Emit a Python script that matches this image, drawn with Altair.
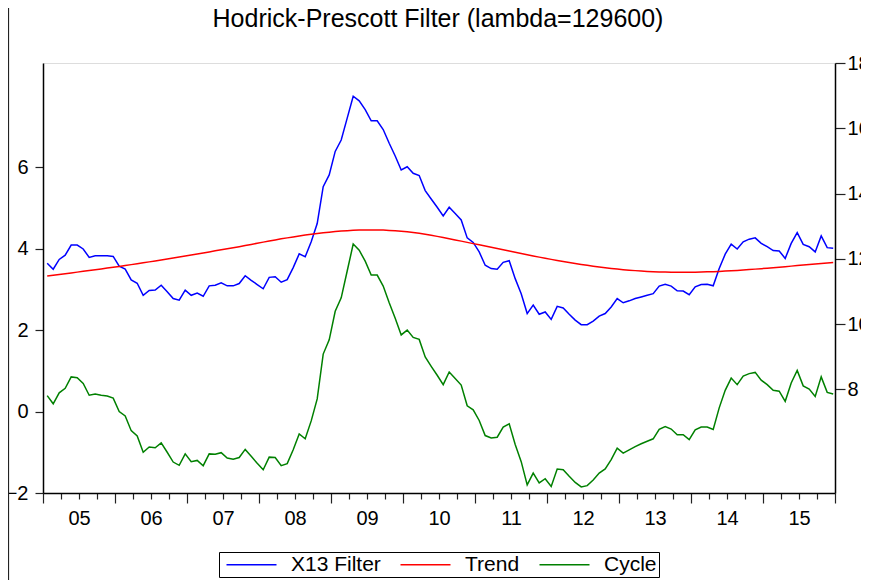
import altair as alt
import pandas as pd

FONT = "Liberation Sans"
TITLE = "Hodrick-Prescott Filter (lambda=129600)"

years = list(range(2005, 2016))
month_nums = list(range(1, 13))

x13 = [
    11.86, 11.68, 11.98, 12.11, 12.42, 12.42, 12.30, 12.04, 12.09, 12.09, 12.09, 12.07,
    11.77, 11.68, 11.35, 11.25, 10.88, 11.03, 11.04, 11.19, 10.99, 10.78, 10.73, 11.04,
    10.88, 10.95, 10.85, 11.17, 11.19, 11.26, 11.17, 11.17, 11.24, 11.48, 11.34, 11.21,
    11.08, 11.43, 11.45, 11.28, 11.36, 11.73, 12.15, 12.06, 12.52, 13.08, 14.21, 14.57,
    15.29, 15.64, 16.31, 16.98, 16.84, 16.57, 16.23, 16.23, 15.96, 15.54, 15.15, 14.72,
    14.82, 14.62, 14.55, 14.09, 13.83, 13.58, 13.31, 13.58, 13.39, 13.19, 12.64, 12.50,
    12.21, 11.80, 11.70, 11.68, 11.89, 11.94, 11.39, 10.93, 10.32, 10.58, 10.30, 10.37,
    10.14, 10.54, 10.49, 10.30, 10.12, 9.98, 9.98, 10.09, 10.24, 10.32, 10.52, 10.78,
    10.65, 10.71, 10.78, 10.83, 10.88, 10.93, 11.16, 11.22, 11.16, 11.02, 11.01, 10.90,
    11.14, 11.21, 11.22, 11.17, 11.70, 12.14, 12.45, 12.30, 12.52, 12.60, 12.64, 12.47,
    12.37, 12.25, 12.24, 12.01, 12.47, 12.80, 12.44, 12.37, 12.21, 12.70, 12.34, 12.32,
]

trend = [
    11.470, 11.494, 11.518, 11.542, 11.566, 11.590, 11.614, 11.639, 11.664, 11.689, 11.714, 11.740,
    11.766, 11.793, 11.820, 11.848, 11.876, 11.904, 11.933, 11.962, 11.992, 12.022, 12.052, 12.083,
    12.114, 12.146, 12.178, 12.210, 12.242, 12.274, 12.306, 12.338, 12.370, 12.405, 12.440, 12.475,
    12.510, 12.545, 12.578, 12.610, 12.640, 12.670, 12.700, 12.727, 12.752, 12.775, 12.796, 12.815,
    12.832, 12.847, 12.860, 12.870, 12.878, 12.883, 12.885, 12.884, 12.878, 12.869, 12.857, 12.842,
    12.824, 12.803, 12.779, 12.752, 12.720, 12.686, 12.651, 12.615, 12.578, 12.540, 12.502, 12.464,
    12.426, 12.388, 12.350, 12.312, 12.274, 12.236, 12.198, 12.160, 12.123, 12.086, 12.050, 12.015,
    11.981, 11.948, 11.916, 11.885, 11.855, 11.826, 11.798, 11.772, 11.748, 11.726, 11.704, 11.684,
    11.666, 11.650, 11.636, 11.624, 11.613, 11.604, 11.597, 11.591, 11.587, 11.585, 11.584, 11.585,
    11.587, 11.591, 11.598, 11.605, 11.613, 11.622, 11.632, 11.643, 11.655, 11.668, 11.682, 11.696,
    11.711, 11.726, 11.742, 11.758, 11.774, 11.790, 11.806, 11.822, 11.838, 11.854, 11.870, 11.886,
]

cycle = [
    0.39, 0.19, 0.46, 0.57, 0.85, 0.83, 0.69, 0.40, 0.43, 0.40, 0.38, 0.33,
    0.00, -0.11, -0.47, -0.60, -1.00, -0.87, -0.89, -0.77, -1.00, -1.24, -1.32, -1.04,
    -1.23, -1.20, -1.33, -1.04, -1.05, -1.01, -1.14, -1.17, -1.13, -0.93, -1.10, -1.27,
    -1.43, -1.12, -1.13, -1.33, -1.28, -0.94, -0.55, -0.67, -0.23, 0.31, 1.41, 1.76,
    2.46, 2.79, 3.45, 4.11, 3.96, 3.69, 3.35, 3.35, 3.08, 2.67, 2.29, 1.88,
    2.00, 1.82, 1.77, 1.34, 1.11, 0.89, 0.66, 0.97, 0.81, 0.65, 0.14, 0.04,
    -0.22, -0.59, -0.65, -0.63, -0.38, -0.30, -0.81, -1.23, -1.80, -1.51, -1.75, -1.65,
    -1.84, -1.41, -1.43, -1.59, -1.74, -1.85, -1.82, -1.68, -1.51, -1.41, -1.18, -0.90,
    -1.02, -0.94, -0.86, -0.79, -0.73, -0.67, -0.44, -0.37, -0.43, -0.57, -0.57, -0.69,
    -0.45, -0.38, -0.38, -0.44, 0.09, 0.52, 0.82, 0.66, 0.87, 0.93, 0.96, 0.77,
    0.66, 0.52, 0.50, 0.25, 0.70, 1.01, 0.63, 0.55, 0.37, 0.85, 0.47, 0.43,
]

series_names = ["X13 Filter", "Trend", "Cycle"]
series_colors = ["#0000FF", "#FF0000", "#008000"]

left_ticks = [-2, 0, 2, 4, 6]
right_ticks = [8, 10, 12, 14, 16, 18]
quarter_ticks = [2005 + q / 4 for q in range(45)]

# observation position (monthly, placed inside each month)
t = [y + (m - 0.3) / 12 for y in years for m in month_nums]

rows = []
for name, vals in zip(series_names, [x13, trend, cycle]):
    for tt, v in zip(t, vals):
        rows.append({"t": tt, "value": v, "series": name})
df = pd.DataFrame(rows)

xscale = alt.Scale(domain=[2005, 2016], nice=False, zero=False)
xaxis = alt.Axis(
    values=quarter_ticks, title=None, grid=False,
    labelExpr="(datum.value % 1 == 0.5) ? substring(toString(floor(datum.value)), 2, 4) : ''",
    tickSize={"condition": {"test": "datum.value % 1 == 0", "value": 10}, "value": 6},
    labelFontSize=20, labelFont=FONT, labelColor="black", labelPadding=9,
    labelOverlap=False, labelFlush=False, labelBound=False,
    tickColor="#222222", tickWidth=1.2, domainColor="black", domainWidth=1.5,
)

legend = alt.Legend(
    orient="none", legendX=176, legendY=489, direction="horizontal", title=None,
    symbolType="M-1,0H9", symbolSize=100, symbolStrokeWidth=1.5, labelOffset=49,
    labelFontSize=21, labelFont=FONT, labelColor="black",
    strokeColor="black", padding=2, columnPadding=14,
)
color = alt.Color(
    "series:N",
    scale=alt.Scale(domain=series_names, range=series_colors),
    legend=legend,
)

cycle_layer = (
    alt.Chart(df)
    .transform_filter(alt.datum.series == "Cycle")
    .mark_line(strokeWidth=1.5)
    .encode(
        x=alt.X("t:Q", scale=xscale, axis=xaxis),
        y=alt.Y(
            "value:Q",
            scale=alt.Scale(domain=[-2, 8.555], nice=False, zero=False),
            axis=alt.Axis(
                orient="left", values=left_ticks, title=None, grid=False,
                labelFontSize=20, labelFont=FONT, labelColor="black",
                tickSize=8, labelPadding=7, tickColor="#222222", tickWidth=1.2,
                domainColor="black", domainWidth=1.5,
            ),
        ),
        color=color,
    )
)

level_layer = (
    alt.Chart(df)
    .transform_filter(alt.FieldOneOfPredicate(field="series", oneOf=["X13 Filter", "Trend"]))
    .mark_line(strokeWidth=1.5)
    .encode(
        x=alt.X("t:Q", scale=xscale, axis=xaxis),
        y=alt.Y(
            "value:Q",
            scale=alt.Scale(domain=[4.82, 18], nice=False, zero=False),
            axis=alt.Axis(
                orient="right", values=right_ticks, title=None, grid=False,
                labelFontSize=20, labelFont=FONT, labelColor="black",
                tickSize=10, labelPadding=2, tickColor="#222222", tickWidth=1.2,
                domainColor="black", domainWidth=1.5,
            ),
        ),
        color=color,
    )
)

title_layer = (
    alt.Chart(pd.DataFrame({"label": [TITLE]}))
    .mark_text(font=FONT, fontSize=25, color="black", align="center", baseline="alphabetic")
    .encode(text="label:N", x=alt.value(395), y=alt.value(-36))
)

frame_line = (
    alt.Chart(pd.DataFrame({"k": [0]}))
    .mark_rule(color="#222222", strokeWidth=1.2)
    .encode(x=alt.value(-34.5), y=alt.value(-55), y2=alt.value(517))
)

chart = (
    alt.layer(cycle_layer, level_layer, title_layer, frame_line)
    .resolve_scale(y="independent")
    .properties(
        width=792,
        height=430,
        padding={"left": 35, "top": 55, "right": 26, "bottom": 87},
        autosize=alt.AutoSizeParams(type="none"),
    )
    .configure_view(stroke="black", strokeWidth=1.5)
    .configure(background="white")
)

chart.save("out.html", embed_options={"renderer": "svg", "actions": False})
